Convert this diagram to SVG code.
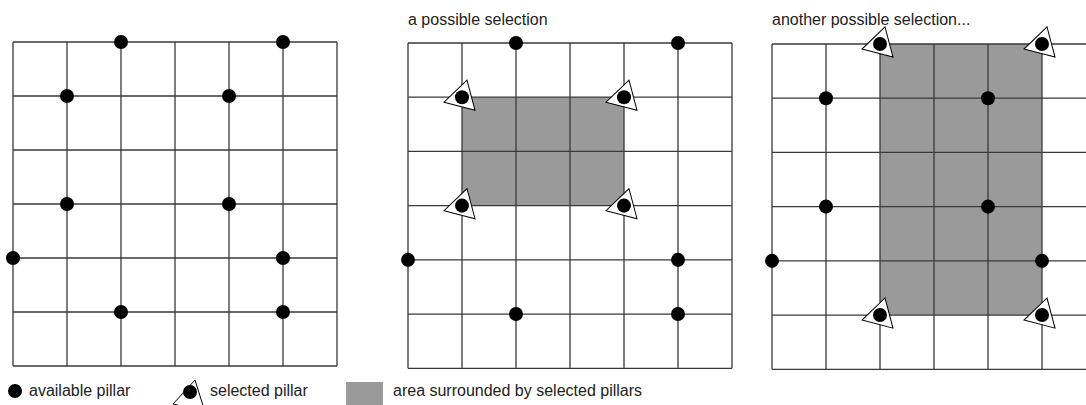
<svg xmlns="http://www.w3.org/2000/svg" width="1086" height="405" viewBox="0 0 1086 405">
<style>
.grid{fill:none;stroke:#3a3a3a;stroke-width:1.3}
.area{fill:#9a9a9a;stroke:none}
.dot{fill:#000}
.tri{fill:#fff;stroke:#000;stroke-width:1}
text{font-family:"Liberation Sans",Arial,sans-serif;font-size:16px;fill:#222}
</style>
<defs>
<path id="g" d="M0 0V324M54 0V324M108 0V324M162 0V324M216 0V324M270 0V324M324 0V324M0 0H324M0 54H324M0 108H324M0 162H324M0 216H324M0 270H324M0 324H324"/>
<g id="av"><circle r="7" class="dot"/></g>
<g id="sel"><polygon class="tri" points="5,-17 -18,5 13,13"/><circle r="7" class="dot"/></g>
</defs>
<text x="408" y="25">a possible selection</text>
<text x="772" y="25">another possible selection...</text>

<g id="grid1" transform="translate(13,42)">
<use href="#g" class="grid"/>
<g id="g1-p1"><use href="#av" x="108" y="0"/></g>
<g id="g1-p2"><use href="#av" x="270" y="0"/></g>
<g id="g1-p3"><use href="#av" x="54" y="54"/></g>
<g id="g1-p4"><use href="#av" x="216" y="54"/></g>
<g id="g1-p5"><use href="#av" x="54" y="162"/></g>
<g id="g1-p6"><use href="#av" x="216" y="162"/></g>
<g id="g1-p7"><use href="#av" x="0" y="216"/></g>
<g id="g1-p8"><use href="#av" x="270" y="216"/></g>
<g id="g1-p9"><use href="#av" x="270" y="270"/></g>
<g id="g1-p10"><use href="#av" x="108" y="270"/></g>
</g>

<g id="grid2" transform="translate(408,43) scale(1,1.004)">
<rect class="area" x="54" y="54" width="162" height="108"/>
<use href="#g" class="grid"/>
<g id="g2-p1"><use href="#av" x="108" y="0"/></g>
<g id="g2-p2"><use href="#av" x="270" y="0"/></g>
<g id="g2-p3"><use href="#sel" x="54" y="54"/></g>
<g id="g2-p4"><use href="#sel" x="216" y="54"/></g>
<g id="g2-p5"><use href="#sel" x="54" y="162"/></g>
<g id="g2-p6"><use href="#sel" x="216" y="162"/></g>
<g id="g2-p7"><use href="#av" x="0" y="216"/></g>
<g id="g2-p8"><use href="#av" x="270" y="216"/></g>
<g id="g2-p9"><use href="#av" x="270" y="270"/></g>
<g id="g2-p10"><use href="#av" x="108" y="270"/></g>
</g>

<g id="grid3" transform="translate(772,44) scale(1,1.004)">
<rect class="area" x="108" y="0" width="162" height="270"/>
<use href="#g" class="grid"/>
<g id="g3-p1"><use href="#sel" x="108" y="0"/></g>
<g id="g3-p2"><use href="#sel" x="270" y="0"/></g>
<g id="g3-p3"><use href="#av" x="54" y="54"/></g>
<g id="g3-p4"><use href="#av" x="216" y="54"/></g>
<g id="g3-p5"><use href="#av" x="54" y="162"/></g>
<g id="g3-p6"><use href="#av" x="216" y="162"/></g>
<g id="g3-p7"><use href="#av" x="0" y="216"/></g>
<g id="g3-p8"><use href="#av" x="270" y="216"/></g>
<g id="g3-p9"><use href="#sel" x="270" y="270"/></g>
<g id="g3-p10"><use href="#sel" x="108" y="270"/></g>
</g>

<g id="legend">
<g id="leg-available"><circle cx="15" cy="391" r="7" class="dot"/><text x="29" y="396">available pillar</text></g>
<g id="leg-selected"><polygon class="tri" points="173,404 195,380 205,412"/><circle cx="190" cy="392" r="7" class="dot"/><text x="210" y="396">selected pillar</text></g>
<g id="leg-area"><rect class="area" x="346" y="382" width="37" height="30"/><text x="393" y="396">area surrounded by selected pillars</text></g>
</g>
</svg>
